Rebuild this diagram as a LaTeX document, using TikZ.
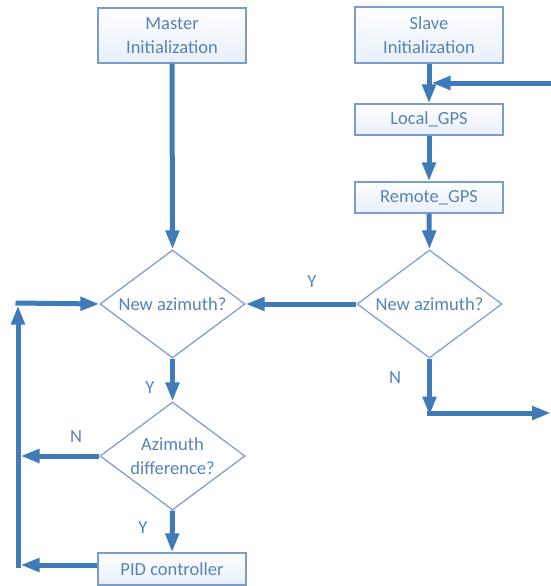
\documentclass[tikz,border=0pt]{standalone}
\usepackage{fontspec}
\setmainfont{Carlito}
\usetikzlibrary{shapes.geometric,arrows.meta}

\definecolor{flowline}{HTML}{3F7AB9}
\definecolor{frameblue}{HTML}{7A9DCB}
\definecolor{textblue}{HTML}{5683B8}
\definecolor{paleblue}{HTML}{E7EFF9}

\tikzset{
  base/.style={font=\fontsize{18.5}{23.5}\selectfont, text=textblue},
  procbox/.style={base, draw=frameblue, line width=1.2pt, top color=white,
    bottom color=paleblue, minimum width=148pt, inner sep=0pt, align=center},
  decision/.style={base, shape=diamond, draw=frameblue, line width=1.2pt,
    fill=white, minimum width=145pt, minimum height=108pt, inner sep=0pt},
  flow/.style={draw=flowline, line width=5pt,
    -{Triangle[length=19pt,width=13pt]}},
  bare/.style={draw=flowline, line width=5pt},
  tag/.style={base}
}

\begin{document}
\begin{tikzpicture}[x=1pt,y=-1pt]
\useasboundingbox (0,0) rectangle (551,586);

% process boxes
\node[procbox, minimum height=55pt] (master) at (172,35.5) {Master\\Initialization};
\node[procbox, minimum height=56pt] (slave) at (429,35) {Slave\\Initialization};
\node[procbox, minimum height=31pt] (local) at (429,119.5) {Local\_GPS};
\node[procbox, minimum height=31pt] (remote) at (429,197.5) {Remote\_GPS};
\node[procbox, minimum height=32pt] (pid) at (172,569) {PID controller};

% decisions
\node[decision, label={[tag]center:New azimuth?}] (mnew) at (172.5,304) {};
\node[decision, label={[tag]center:New azimuth?}] (snew) at (429.5,304) {};
\node[decision, label={[tag, align=center]center:Azimuth\\difference?}] (diff) at (172.5,456) {};

% helper points for the loops
\coordinate (fbin) at (551,83);
\coordinate (fbjoin) at (431.5,83);
\coordinate (nbend) at (429.5,413);
\coordinate (nout) at (551,413);
\coordinate (lcorner) at (15.5,303);
\coordinate (ltop) at (18,305.5);
\coordinate (lbot) at (18,567.5);
\coordinate (ldiff) at (20.5,456);
\coordinate (lpid) at (20.5,565);

% master side
\draw[flow] (master.south) -- (mnew.north);
\draw[flow] (mnew.south) -- (diff.north);
\draw[flow] (diff.south) -- (pid.north);
\draw[flow] (diff.west) -- (ldiff);
\draw[flow] (pid.west |- lpid) -- (lpid);
\draw[flow] (lbot) -- (ltop);
\draw[flow] (lcorner) -- (mnew.west);

% slave side
\draw[flow] (slave.south) -- (local.north);
\draw[flow] (fbin) -- (fbjoin);
\draw[flow] (local.south) -- (remote.south |- local.south) -- (remote.north);
\draw[flow] (remote.south) -- (snew.north);
\draw[flow] (snew.west) -- (mnew.east);
\draw[flow] (snew.south) -- ([yshift=-2.5pt]nbend);
\draw[flow] ([xshift=-2.5pt]nbend) -- (nout);

% branch labels
\node[tag] (ly1) at (312,282) {Y};
\node[tag] (ln1) at (395,378) {N};
\node[tag] (ly2) at (150,388) {Y};
\node[tag] (ln2) at (76,437) {N};
\node[tag] (ly3) at (143,528) {Y};
\end{tikzpicture}
\end{document}
